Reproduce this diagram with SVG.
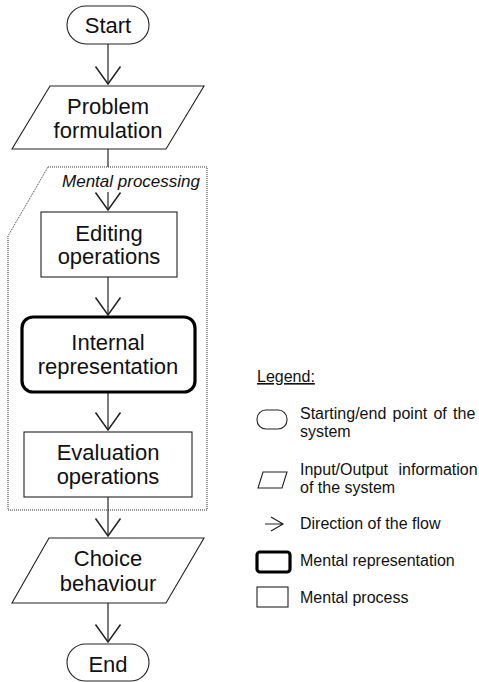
<svg xmlns="http://www.w3.org/2000/svg" width="479" height="682" viewBox="0 0 479 682">
<defs>
<style>
.t{font-family:"Liberation Sans",Arial,sans-serif;font-size:22px;fill:#111;text-anchor:middle}
.lt{font-family:"Liberation Sans",Arial,sans-serif;font-size:16px;fill:#111}
.sh{fill:#fff;stroke:#222;stroke-width:1.1}
.thick{fill:#fff;stroke:#000;stroke-width:3.2}
.conn{fill:none;stroke:#222;stroke-width:1.2}
</style>
<marker id="arr" markerUnits="userSpaceOnUse" markerWidth="30" markerHeight="30" viewBox="-16 -12 20 24" refX="0" refY="0" orient="auto" overflow="visible">
<path d="M-14,-10 L0,0 L-14,10" fill="none" stroke="#222" stroke-width="1.2"/>
</marker>
</defs>
<rect width="479" height="682" fill="#fff"/>

<g id="mental-processing">
<polygon points="48,167 207,167 207,510 8,510 8,236" fill="none" stroke="#333" stroke-width="1" stroke-dasharray="1,1"/>
<text x="200" y="187" class="lt" style="font-size:17px;font-style:italic;text-anchor:end">Mental processing</text>
</g>

<g id="connectors">
<path class="conn" d="M108,44 V84" marker-end="url(#arr)"/>
<path class="conn" d="M108,149 V167"/>
<path class="conn" d="M108,192 V210" marker-end="url(#arr)"/>
<path class="conn" d="M108,277 V315" marker-end="url(#arr)"/>
<path class="conn" d="M108,392 V430" marker-end="url(#arr)"/>
<path class="conn" d="M108,497 V536" marker-end="url(#arr)"/>
<path class="conn" d="M108,603 V642" marker-end="url(#arr)"/>
</g>

<g id="start">
<rect x="67" y="6" width="82" height="38" rx="19" class="sh"/>
<text x="108" y="33" class="t">Start</text>
</g>

<g id="problem">
<polygon points="50,86 204,86 166,149 12,149" class="sh"/>
<text x="108" y="114" class="t">Problem</text>
<text x="108" y="138" class="t">formulation</text>
</g>

<g id="editing">
<rect x="41" y="212" width="136" height="65" class="sh"/>
<text x="109" y="241" class="t">Editing</text>
<text x="109" y="264" class="t">operations</text>
</g>

<g id="internal">
<rect x="22" y="317" width="173" height="75" rx="11" class="thick"/>
<text x="108" y="350" class="t">Internal</text>
<text x="108" y="374" class="t">representation</text>
</g>

<g id="evaluation">
<rect x="24" y="432" width="168" height="65" class="sh"/>
<text x="108" y="460" class="t">Evaluation</text>
<text x="108" y="484" class="t">operations</text>
</g>

<g id="choice">
<polygon points="49,538 204,538 166,603 12,603" class="sh"/>
<text x="108" y="566" class="t">Choice</text>
<text x="108" y="591" class="t">behaviour</text>
</g>

<g id="end">
<rect x="67" y="644" width="82" height="37" rx="18.5" class="sh"/>
<text x="108" y="672" class="t">End</text>
</g>

<g id="legend">
<text x="257" y="382" class="lt" text-decoration="underline">Legend:</text>
<rect x="257" y="410" width="30" height="19" rx="9" class="sh"/>
<text x="300" y="419" class="lt" word-spacing="1.8">Starting/end point of the</text>
<text x="300" y="437" class="lt">system</text>
<polygon points="263,472 287,472 282,488 258,488" class="sh"/>
<text x="300" y="475" class="lt" word-spacing="6">Input/Output information</text>
<text x="300" y="493" class="lt">of the system</text>
<path d="M265,524 H283 M271,517 L283,524 L271,531" fill="none" stroke="#222" stroke-width="1.2"/>
<text x="300" y="529" class="lt">Direction of the flow</text>
<rect x="257" y="552" width="33" height="20" rx="3" class="thick"/>
<text x="300" y="566" class="lt">Mental representation</text>
<rect x="257" y="587" width="31" height="20" class="sh"/>
<text x="300" y="603" class="lt">Mental process</text>
</g>
</svg>
